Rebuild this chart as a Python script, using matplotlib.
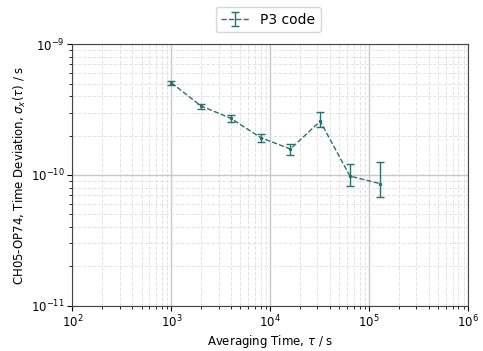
import numpy as np
import matplotlib
matplotlib.use('Agg')
import matplotlib.pyplot as plt

tau = [1000, 2000, 4000, 8000, 16000, 32000, 64000, 128000]
tdev = [5.07e-10, 3.37e-10, 2.71e-10, 1.93e-10, 1.58e-10, 2.58e-10, 0.98e-10, 0.86e-10]
err_lo = [0.18e-10, 0.15e-10, 0.15e-10, 0.13e-10, 0.15e-10, 0.25e-10, 0.16e-10, 0.18e-10]
err_hi = [0.18e-10, 0.15e-10, 0.15e-10, 0.13e-10, 0.15e-10, 0.46e-10, 0.23e-10, 0.39e-10]

kolor = '#2b6e6e'

fig = plt.figure(figsize=(4.83, 3.51), dpi=100)
ax = fig.add_axes([0.150, 0.129, 0.819, 0.745])

ax.errorbar(tau, tdev, yerr=[err_lo, err_hi], fmt='.--', color=kolor,
            ms=3, lw=1, capsize=3, elinewidth=1, label='P3 code')

ax.set_xscale('log')
ax.set_yscale('log')
ax.set_xlim(1e2, 1e6)
ax.set_ylim(1e-11, 1e-9)
ax.grid(which='major', color='#c8c8c8', lw=1)
ax.grid(which='minor', color='#e3e3e3', ls='--', lw=0.7)
ax.set_xlabel(r'Averaging Time, $\tau$ / s', fontsize=8.5, labelpad=2)
ax.set_ylabel(r'CH05-OP74, Time Deviation, $\sigma_x(\tau)$ / s', fontsize=8.5, labelpad=2)
ax.tick_params(labelsize=8.5, length=3.5, pad=2)
ax.tick_params(which='minor', length=2)
for s in ax.spines.values():
    s.set_color('#444444')

fig.legend(loc='upper center', bbox_to_anchor=(0.555, 1.0), fontsize=10, markerscale=0.1)

plt.savefig('out.png', dpi=100)
